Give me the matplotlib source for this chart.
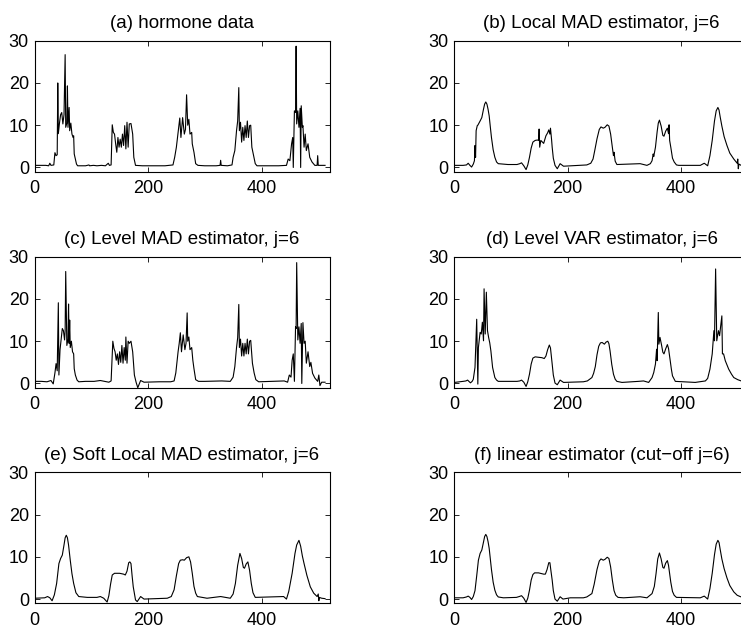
import matplotlib
matplotlib.use("Agg")
import matplotlib.pyplot as plt

plt.rcParams['font.family'] = ['Liberation Sans', 'DejaVu Sans']

# each series: (sample index, value)

# (a) raw hormone data
hormone = [(1, 0.5), (10, 0.5), (20, 0.5), (25, 0.4), (27, 1.0), (29, 0.5), (34, 0.6), (36, 3.5),
           (38, 2.8), (40, 3.0), (41, 20.0), (42, 8.0), (44, 10.5), (46, 12.5), (48, 13.0),
           (50, 10.3), (52, 12.5), (54, 26.7), (55, 9.5), (57, 10.5), (58, 19.3), (59, 9.5),
           (61, 14.2), (62, 8.7), (64, 10.5), (66, 7.9), (68, 7.1), (69, 7.5), (70, 3.2),
           (72, 2.0), (74, 0.8), (76, 0.4), (90, 0.4), (96, 0.6), (97, 0.4), (104, 0.5),
           (110, 0.4), (118, 0.5), (125, 0.4), (130, 1.0), (132, 0.5), (135, 0.6), (137, 10.1),
           (139, 8.3), (141, 7.9), (143, 5.6), (145, 3.6), (147, 7.1), (149, 4.8), (151, 6.7),
           (153, 4.8), (155, 7.9), (157, 5.2), (159, 9.9), (161, 4.4), (163, 10.7), (165, 4.8),
           (167, 10.3), (170, 10.4), (173, 7.9), (175, 2.4), (178, 0.5), (190, 0.4), (210, 0.4),
           (230, 0.4), (244, 0.6), (247, 2.4), (250, 4.8), (252, 7.1), (254, 9.5), (256, 11.7),
           (258, 7.1), (261, 11.8), (264, 7.9), (266, 9.0), (268, 17.2), (270, 10.0),
           (272, 11.4), (274, 7.9), (277, 8.3), (278, 5.6), (281, 3.6), (284, 0.9), (288, 0.5),
           (300, 0.4), (320, 0.4), (327, 0.5), (328, 1.7), (329, 0.5), (340, 0.4), (348, 0.6),
           (350, 2.4), (353, 4.0), (356, 8.7), (358, 11.0), (360, 18.9), (361, 8.7), (363, 10.7),
           (365, 6.0), (367, 9.5), (369, 6.4), (371, 9.9), (373, 7.1), (375, 11.0), (377, 7.1),
           (379, 9.9), (381, 10.0), (383, 4.8), (386, 2.8), (389, 0.9), (392, 0.4), (410, 0.4),
           (430, 0.4), (444, 0.5), (447, 2.0), (450, 1.6), (453, 5.6), (455, 7.1), (456, 0.0),
           (458, 13.4), (460, 13.0), (461, 28.7), (462, 10.3), (464, 13.4), (466, 9.5),
           (468, 14.0), (469, 0.0), (470, 14.6), (472, 9.5), (473, 9.9), (475, 4.8), (477, 7.9),
           (479, 4.0), (482, 5.6), (485, 2.4), (489, 1.3), (494, 0.5), (498, 0.5), (499, 2.8),
           (500, 0.5), (505, 0.5), (512, 0.5)]

# (b) local MAD estimator
local_mad = [(1, 0.5), (16, 0.5), (22, 0.6), (25, 1.0), (28, 0.5), (31, 0.1), (34, 0.8), (36, 1.6),
             (37, 5.2), (38, 2.4), (39, 8.7), (41, 9.9), (42, 10.0), (46, 11.0), (49, 11.8),
             (52, 13.8), (54, 15.0), (56, 15.5), (58, 15.0), (60, 13.8), (62, 12.2), (64, 9.6),
             (66, 7.1), (69, 4.2), (72, 2.4), (75, 1.3), (78, 0.9), (95, 0.7), (111, 0.7),
             (116, 0.9), (119, 1.1), (123, 0.4), (127, -0.5), (130, 0.6), (133, 2.4), (136, 4.6),
             (139, 6.0), (143, 6.4), (147, 6.5), (149, 6.4), (150, 9.1), (151, 4.8), (153, 6.4),
             (158, 5.7), (162, 7.5), (165, 8.2), (167, 8.9), (169, 7.9), (170, 9.3), (172, 6.5),
             (173, 4.8), (175, 2.2), (178, 0.5), (182, -0.3), (187, 0.9), (193, 0.3), (234, 0.6),
             (241, 1.0), (245, 2.0), (248, 4.0), (252, 6.8), (256, 9.0), (259, 9.6), (263, 9.3),
             (266, 9.5), (270, 10.1), (273, 9.8), (276, 7.9), (279, 4.8), (281, 2.8), (282, 3.6),
             (284, 1.5), (287, 0.7), (328, 0.9), (340, 0.5), (346, 0.9), (349, 1.6), (351, 3.2),
             (352, 2.6), (355, 4.8), (358, 8.5), (360, 10.5), (362, 11.2), (365, 9.8),
             (368, 7.6), (370, 7.4), (373, 8.6), (376, 9.3), (378, 8.0), (379, 10.1), (380, 6.4),
             (382, 4.8), (385, 2.2), (388, 1.3), (392, 0.6), (396, 0.5), (434, 0.5), (441, 1.0),
             (447, 0.4), (451, 2.8), (455, 6.4), (459, 11.0), (462, 13.4), (465, 14.2),
             (467, 13.6), (469, 12.0), (472, 9.8), (476, 7.3), (481, 5.2), (486, 3.4), (493, 2.0),
             (499, 1.0), (500, 2.0), (501, -0.3), (502, 0.8), (506, 0.5), (512, 0.5)]

# (c) level MAD estimator
level_mad = [(1, 0.5), (12, 0.5), (22, 0.4), (29, 0.7), (33, -0.1), (36, 2.5), (38, 4.7), (40, 3.0),
             (42, 19.1), (43, 2.0), (45, 8.0), (47, 10.5), (49, 13.0), (51, 12.5), (53, 10.3),
             (54, 12.5), (55, 26.5), (57, 9.0), (59, 10.5), (60, 18.8), (61, 9.5), (62, 15.0),
             (63, 8.5), (65, 10.0), (67, 7.5), (69, 7.0), (70, 3.5), (72, 2.0), (75, 0.8),
             (78, 0.4), (90, 0.5), (105, 0.5), (116, 0.7), (124, 0.5), (131, 0.3), (135, 0.6),
             (138, 10.0), (140, 8.3), (142, 7.5), (144, 5.5), (146, 7.0), (148, 4.5), (150, 7.5),
             (152, 5.0), (154, 9.0), (156, 4.8), (158, 8.5), (160, 5.5), (161, 11.0), (163, 4.8),
             (165, 10.0), (167, 9.5), (170, 10.0), (173, 7.5), (176, 2.0), (179, 0.3),
             (182, -1.0), (187, 0.7), (193, 0.3), (220, 0.4), (240, 0.4), (246, 0.6), (249, 2.5),
             (251, 5.0), (253, 7.5), (255, 9.5), (257, 12.0), (259, 7.5), (262, 11.5), (265, 8.0),
             (267, 9.5), (269, 16.7), (270, 10.0), (272, 11.0), (274, 8.0), (277, 8.5),
             (279, 5.5), (281, 3.5), (284, 0.9), (289, 0.5), (300, 0.5), (330, 0.6), (345, 0.5),
             (350, 1.5), (353, 4.0), (356, 8.5), (358, 10.8), (360, 18.7), (361, 8.5),
             (363, 10.5), (365, 6.5), (367, 9.5), (369, 6.5), (371, 9.5), (373, 7.0), (375, 10.5),
             (377, 7.0), (379, 10.0), (381, 10.2), (384, 4.8), (387, 2.5), (390, 0.9), (395, 0.4),
             (420, 0.5), (440, 0.6), (446, 0.3), (449, 2.0), (452, 1.5), (454, 5.5), (456, 7.0),
             (458, 0.5), (460, 13.4), (461, 13.0), (462, 28.6), (464, 10.3), (466, 13.4),
             (468, 9.5), (470, 14.2), (471, 0.0), (473, 14.4), (475, 9.5), (477, 10.0),
             (479, 4.8), (482, 7.5), (485, 4.0), (487, 5.0), (490, 2.4), (494, 1.3), (499, 0.5),
             (501, 2.0), (503, -0.5), (506, 0.3), (512, 0.3)]

# (d) level VAR estimator
level_var = [(1, 0.25), (16, 0.5), (21, 0.6), (24, 0.8), (27, 0.4), (29, 0.15), (32, 0.5),
             (34, 1.0), (37, 3.8), (40, 15.2), (42, -0.15), (43, 8.5), (46, 12.1), (48, 11.7),
             (50, 14.5), (52, 10.1), (53, 22.4), (55, 11.7), (57, 21.6), (59, 12.5), (61, 10.9),
             (63, 9.6), (65, 7.7), (68, 3.8), (72, 1.4), (75, 0.8), (78, 0.5), (111, 0.5),
             (116, 0.6), (119, 0.8), (123, 0.3), (127, -0.7), (130, 0.4), (133, 2.2), (136, 4.6),
             (139, 6.0), (143, 6.3), (149, 6.2), (155, 6.1), (159, 5.9), (162, 6.5), (165, 8.0),
             (168, 9.1), (170, 8.4), (173, 4.6), (175, 2.0), (178, 0.1), (182, -0.3), (187, 0.8),
             (193, 0.25), (228, 0.4), (235, 0.6), (243, 1.4), (246, 2.4), (249, 4.0), (252, 6.8),
             (255, 8.8), (258, 9.6), (261, 9.7), (265, 9.3), (268, 9.8), (271, 10.0), (273, 9.4),
             (275, 7.7), (278, 4.5), (281, 2.2), (284, 1.0), (287, 0.5), (296, 0.25), (325, 0.5),
             (334, 0.6), (343, 0.25), (349, 1.4), (352, 2.6), (355, 4.6), (357, 8.1), (358, 5.4),
             (360, 16.8), (361, 9.3), (363, 10.9), (366, 8.9), (368, 7.4), (370, 7.0),
             (373, 8.2), (376, 9.2), (378, 8.3), (381, 5.4), (383, 3.4), (385, 1.8), (390, 0.5),
             (425, 0.25), (443, 0.6), (447, 1.2), (451, 3.4), (455, 7.0), (458, 12.5),
             (459, 10.1), (461, 27.1), (463, 10.1), (466, 12.5), (468, 11.3), (470, 13.7),
             (472, 16.0), (473, 7.0), (475, 7.0), (478, 5.4), (484, 3.4), (489, 2.2), (493, 1.4),
             (500, 0.9), (506, 0.6), (512, 0.5)]

# (e) soft local MAD estimator
soft_mad = [(1, 0.2), (18, 0.3), (23, 0.6), (27, 0.3), (31, -0.4), (35, 1.0), (39, 3.7),
            (43, 8.4), (46, 9.6), (49, 10.4), (52, 12.8), (54, 14.5), (56, 15.1), (58, 14.5),
            (60, 12.8), (63, 9.2), (66, 6.0), (69, 3.7), (73, 1.5), (78, 0.6), (93, 0.4),
            (110, 0.4), (116, 0.6), (122, 0.2), (128, -0.7), (131, 0.8), (134, 3.5), (137, 5.7),
            (141, 6.1), (150, 6.1), (157, 5.9), (160, 5.7), (163, 6.6), (166, 8.6), (168, 8.8),
            (170, 8.4), (172, 5.5), (174, 2.9), (178, -0.2), (181, -0.6), (187, 0.6), (193, 0.0),
            (234, 0.2), (241, 0.6), (246, 2.2), (250, 5.5), (254, 8.4), (257, 9.2), (261, 9.3),
            (264, 9.2), (268, 9.8), (272, 10.0), (275, 8.8), (278, 6.1), (281, 3.0), (284, 1.4),
            (287, 0.6), (304, 0.2), (328, 0.6), (345, 0.2), (350, 1.2), (354, 3.7), (358, 8.0),
            (362, 10.8), (365, 9.6), (368, 7.5), (370, 7.3), (373, 8.3), (376, 8.8), (379, 6.8),
            (382, 3.7), (385, 1.5), (389, 0.4), (439, 0.6), (444, 0.0), (448, 1.8), (454, 6.1),
            (459, 10.8), (462, 12.8), (466, 13.9), (469, 12.5), (472, 10.2), (475, 8.4),
            (480, 5.6), (486, 2.9), (492, 1.4), (498, 0.6), (500, 1.2), (501, -0.4), (502, 0.4),
            (506, 0.2), (512, 0.1)]

# (f) linear estimator
linear = [(1, 0.3), (16, 0.3), (22, 0.5), (25, 0.7), (28, 0.4), (31, -0.1), (34, 0.6), (37, 2.0),
          (40, 5.5), (43, 9.2), (46, 10.8), (49, 11.6), (52, 13.5), (54, 14.8), (56, 15.3),
          (58, 14.8), (60, 13.6), (62, 12.0), (64, 9.5), (66, 7.0), (69, 4.0), (72, 2.1),
          (75, 1.0), (78, 0.5), (87, 0.3), (110, 0.4), (115, 0.6), (119, 0.8), (123, 0.2),
          (127, -0.8), (130, 0.2), (133, 2.1), (136, 4.5), (139, 5.8), (142, 6.2), (149, 6.2),
          (158, 5.9), (161, 5.9), (164, 7.0), (167, 8.6), (169, 8.6), (171, 6.5), (173, 4.5),
          (175, 2.0), (178, 0.0), (182, -0.5), (187, 0.55), (192, 0.0), (205, 0.3), (228, 0.3),
          (234, 0.5), (243, 1.3), (247, 3.5), (252, 7.0), (256, 9.0), (259, 9.5), (263, 9.2),
          (266, 9.4), (270, 9.9), (273, 9.6), (276, 7.6), (279, 4.5), (282, 2.0), (285, 0.9),
          (289, 0.4), (299, 0.3), (328, 0.55), (340, 0.3), (349, 1.3), (353, 3.0), (356, 6.0),
          (359, 9.5), (362, 10.9), (365, 9.5), (368, 7.5), (370, 7.3), (373, 8.5), (376, 9.1),
          (378, 8.0), (380, 6.0), (382, 4.0), (385, 1.8), (388, 0.9), (392, 0.4), (434, 0.3),
          (441, 0.7), (447, 0.0), (451, 2.5), (455, 6.1), (459, 10.5), (462, 13.0), (465, 13.9),
          (467, 13.4), (469, 11.8), (472, 9.5), (476, 7.2), (481, 5.0), (486, 3.2), (493, 1.7),
          (499, 0.9), (505, 0.55), (512, 0.4)]

titles = ['(a) hormone data', '(b) Local MAD estimator, j=6',
          '(c) Level MAD estimator, j=6', '(d) Level VAR estimator, j=6',
          '(e) Soft Local MAD estimator, j=6', '(f) linear estimator (cut\u2212off j=6)']
series = [hormone, local_mad, level_mad, level_var, soft_mad, linear]

W, H = 741, 626
fig = plt.figure(figsize=(W / 100, H / 100), dpi=100)

# axes boxes in pixels (right column runs past the edge of the picture)
col_left = [34.5, 454.0]
row_top = [40.7, 256.7, 472.3]
ax_w, ax_h = 295.1, 131.0

for k, (title, data) in enumerate(zip(titles, series)):
    r, c = divmod(k, 2)
    t, y = zip(*data)
    ax = fig.add_axes([col_left[c] / W, 1 - (row_top[r] + ax_h) / H, ax_w / W, ax_h / H])
    ax.plot(t, y, color='black', lw=0.8)
    ax.set_xlim(0, 520)
    ax.set_ylim(-1, 30)
    ax.set_xticks([0, 200, 400])
    ax.set_yticks([0, 10, 20, 30])
    ax.tick_params(direction='in', top=True, right=True, length=3.5, width=0.6,
                   labelsize=13)
    ax.tick_params(axis='x', pad=6)
    ax.tick_params(axis='y', pad=4)
    for s in ax.spines.values():
        s.set_linewidth(0.8)
    ax.set_title(title, fontsize=13.5, pad=9)

fig.savefig('out.png', dpi=100)
